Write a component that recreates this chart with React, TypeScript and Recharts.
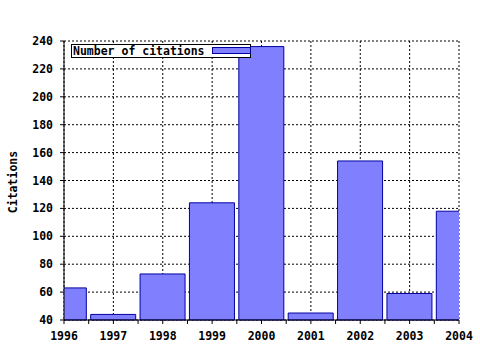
import { BarChart, Bar, XAxis, YAxis, CartesianGrid, Label } from "recharts";

const YEARS = [1996, 1997, 1998, 1999, 2000, 2001, 2002, 2003, 2004];
const CITATIONS = [63, 44, 73, 124, 236, 45, 154, 59, 118];
const Y_TICKS = [40, 60, 80, 100, 120, 140, 160, 180, 200, 220, 240];
const X_DOMAIN = [1996, 2004];

// minor ticks: half years at the bottom, quarter years at the top
const HALF_TICKS = YEARS.flatMap((y) => (y < 2004 ? [y, y + 0.5] : [y]));
const QUARTER_TICKS = YEARS.flatMap((y) =>
  y < 2004 ? [y, y + 0.25, y + 0.5, y + 0.75] : [y]
);

const data = YEARS.map((year, i) => ({ year, citations: CITATIONS[i] }));

const FONT = "'DejaVu Sans Mono', monospace";
const tickStyle = { fontSize: 11.5, fontWeight: "bold", fill: "#000", fontFamily: FONT };

export default function App() {
  return (
    <div style={{ position: "absolute", left: 0, top: 0, width: 480, height: 350, background: "#fff" }}>
      <BarChart
        width={480}
        height={350}
        data={data}
        margin={{ top: 41, right: 21, left: 8, bottom: 0 }}
      >
        <XAxis
          xAxisId="bottom"
          dataKey="year"
          type="number"
          domain={X_DOMAIN}
          ticks={HALF_TICKS}
          interval={0}
          allowDataOverflow
          height={30}
          tickSize={4}
          tickMargin={8}
          axisLine={{ stroke: "#000" }}
          tickLine={{ stroke: "#000" }}
          tick={tickStyle}
          tickFormatter={(v: number) => (Number.isInteger(v) ? String(v) : "")}
        />
        <XAxis
          xAxisId="bars"
          dataKey="year"
          type="number"
          domain={X_DOMAIN}
          ticks={YEARS}
          allowDataOverflow
          height={0}
          hide
        />
        <XAxis
          xAxisId="top"
          orientation="top"
          dataKey="year"
          type="number"
          domain={X_DOMAIN}
          ticks={QUARTER_TICKS}
          interval={0}
          height={0}
          mirror
          tickSize={3}
          tick={false}
          axisLine={{ stroke: "#000" }}
          tickLine={{ stroke: "#000" }}
        />
        <YAxis
          yAxisId="left"
          type="number"
          domain={[40, 240]}
          ticks={Y_TICKS}
          interval={0}
          width={56}
          tickSize={4}
          tickMargin={7}
          axisLine={{ stroke: "#000" }}
          tickLine={{ stroke: "#000" }}
          tick={tickStyle}
        >
          <Label
            content={() => (
              <text
                x={13}
                y={182}
                transform="rotate(-90 13 182)"
                textAnchor="middle"
                dominantBaseline="central"
                style={tickStyle}
              >
                Citations
              </text>
            )}
          />
        </YAxis>
        <YAxis
          yAxisId="right"
          orientation="right"
          type="number"
          domain={[40, 240]}
          width={0}
          tick={false}
          tickLine={false}
          axisLine={{ stroke: "#000" }}
        />
        <CartesianGrid
          xAxisId="bars"
          yAxisId="left"
          stroke="#000"
          strokeDasharray="2 2"
          horizontalValues={Y_TICKS}
          verticalValues={YEARS}
        />
        <Bar
          xAxisId="bars"
          yAxisId="left"
          dataKey="citations"
          barSize={45}
          fill="#8080ff"
          stroke="#0000a0"
          strokeWidth={1}
          isAnimationActive={false}
        />
      </BarChart>
      {/* Legend */}
      <div
        style={{
          position: "absolute",
          left: 71,
          top: 44,
          width: 177,
          height: 12,
          border: "1px solid #000",
          background: "#fff",
          fontFamily: FONT,
          fontWeight: "bold",
          fontSize: 11.5,
          lineHeight: "12px",
          paddingLeft: 1,
          boxSizing: "content-box",
        }}
      >
        Number of citations
        <span
          style={{
            position: "absolute",
            left: 140,
            top: 2,
            width: 37,
            height: 5,
            background: "#8080ff",
            border: "1px solid #0000a0",
          }}
        />
      </div>
    </div>
  );
}
